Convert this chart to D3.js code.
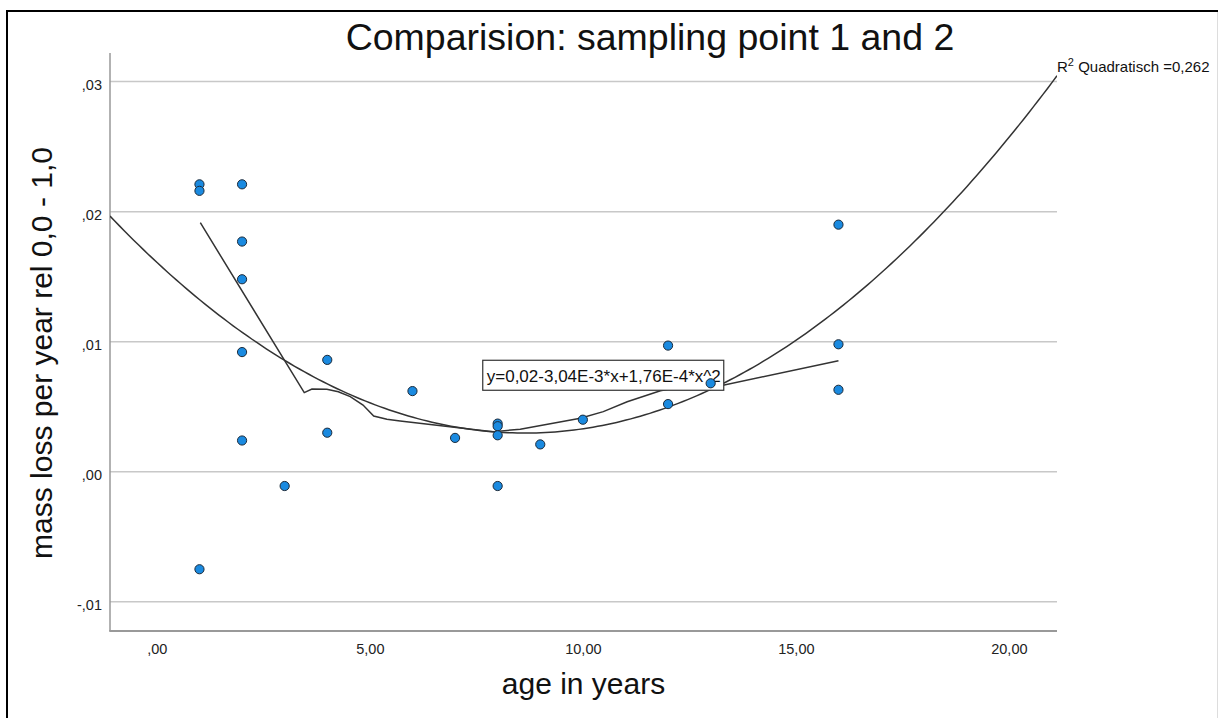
<!DOCTYPE html>
<html>
<head>
<meta charset="utf-8">
<script src="https://cdn.jsdelivr.net/npm/d3@7"></script>
<style>
  body { margin: 0; background: #fff; }
  svg { display: block; }
</style>
</head>
<body>
<div class="chart"></div>
<script>
// 데이터
const ages = [1, 1, 1, 2, 2, 2, 2, 2, 3, 4, 4, 6, 7, 8, 8, 8, 8, 9, 10, 12, 12, 13, 16, 16, 16];
const massLoss = [0.0221, 0.0216, -0.0075, 0.0221, 0.0177, 0.0148, 0.0092, 0.0024, -0.0011, 0.0086, 0.0030,
  0.0062, 0.0026, 0.0037, 0.0035, 0.0028, -0.0011, 0.0021, 0.0040, 0.0097, 0.0052, 0.0068, 0.0190, 0.0098, 0.0063];

// 이차 회귀 계수 (절편은 그림에서 추정)
const quadCoef = [0.0161, -3.04e-3, 1.76e-4];

// Loess 선
const loessX = [1.02, 3.46, 3.64, 3.99, 4.26, 4.54, 4.84, 5.09, 5.40, 5.71, 7.89, 8.53, 9.94, 10.48, 11.04, 11.82, 12.0, 12.99, 16.0];
const loessY = [0.01915, 0.00608, 0.00636, 0.00634, 0.00615, 0.00577, 0.00513, 0.00428, 0.00403, 0.0039, 0.00308, 0.00326, 0.00411, 0.00462, 0.00538, 0.00623, 0.00634, 0.00644, 0.00854];

// 눈금
const xTicks = [0, 5, 10, 15, 20];
const xTickLabels = [',00', '5,00', '10,00', '15,00', '20,00'];
const yTicks = [-0.01, 0, 0.01, 0.02, 0.03];
const yTickLabels = ['-,01', ',00', ',01', ',02', ',03'];

const title = 'Comparision: sampling point 1 and 2';
const xTitle = 'age in years';
const yTitle = 'mass loss per year rel 0,0 - 1,0';
const eqText = 'y=0,02-3,04E-3*x+1,76E-4*x^2';

/******************** 크기 ********************/
const W = 1218, H = 718;
const plot = {left: 110, right: 1057, top: 53, bottom: 631};
const font = '"Liberation Sans", Arial, sans-serif';

const x = d3.scaleLinear([-1.1, 21.13], [plot.left, plot.right]);
const y = d3.scaleLinear([-0.01225, 0.0322], [plot.bottom, plot.top]);

const svg = d3.select('.chart').append('svg')
  .attr('width', W)
  .attr('height', H)
  .attr('font-family', font);

// 바깥 테두리
svg.append('line').attr('x1', 7).attr('x2', 7).attr('y1', 11).attr('y2', H)
  .attr('stroke', '#000').attr('stroke-width', 2);
svg.append('line').attr('x1', 6).attr('x2', W).attr('y1', 11).attr('y2', 11)
  .attr('stroke', '#000').attr('stroke-width', 2);
svg.append('line').attr('x1', 1217.5).attr('x2', 1217.5).attr('y1', 12).attr('y2', H)
  .attr('stroke', '#ddd').attr('stroke-width', 1);

/******************** 눈금선 + 축 ********************/
svg.append('g')
  .selectAll('line')
  .data(yTicks)
  .join('line')
    .attr('x1', plot.left)
    .attr('x2', plot.right)
    .attr('y1', d => y(d))
    .attr('y2', d => y(d))
    .attr('stroke', '#c8c8c8')
    .attr('stroke-width', 1.5);

const yAxis = d3.axisLeft(y).tickValues(yTicks).tickSize(0).tickPadding(8)
  .tickFormat((d, i) => yTickLabels[i]);
svg.append('g')
  .attr('transform', `translate(${plot.left},0)`)
  .call(yAxis)
  .call(g => g.select('.domain').remove())
  .selectAll('text')
    .attr('font-family', font)
    .attr('font-size', 14.5)
    .attr('fill', '#222')
    .attr('dy', '0.55em');

const xAxis = d3.axisBottom(x).tickValues(xTicks).tickSize(0).tickPadding(13)
  .tickFormat((d, i) => xTickLabels[i]);
svg.append('g')
  .attr('transform', `translate(0,${plot.bottom})`)
  .call(xAxis)
  .call(g => g.select('.domain').remove())
  .selectAll('text')
    .attr('font-family', font)
    .attr('font-size', 14.5)
    .attr('fill', '#222');

svg.append('line')
  .attr('x1', plot.left).attr('x2', plot.left)
  .attr('y1', plot.top).attr('y2', plot.bottom)
  .attr('stroke', '#999').attr('stroke-width', 1.5);
svg.append('line')
  .attr('x1', plot.left - 0.75).attr('x2', plot.right)
  .attr('y1', plot.bottom).attr('y2', plot.bottom)
  .attr('stroke', '#999').attr('stroke-width', 2);

/******************** 선 ********************/
svg.append('clipPath').attr('id', 'plotclip')
  .append('rect')
    .attr('x', plot.left).attr('y', plot.top - 30)
    .attr('width', plot.right - plot.left).attr('height', plot.bottom - plot.top + 30);

const quad = v => quadCoef[0] + quadCoef[1] * v + quadCoef[2] * v * v;
const quadPts = d3.range(0, 201).map(i => {
  const v = x.domain()[0] + (x.domain()[1] - x.domain()[0]) * i / 200;
  return [v, quad(v)];
});
const line = d3.line().x(d => x(d[0])).y(d => y(d[1]));

svg.append('path')
  .attr('clip-path', 'url(#plotclip)')
  .attr('d', line(quadPts))
  .attr('fill', 'none')
  .attr('stroke', '#333')
  .attr('stroke-width', 1.5);

svg.append('path')
  .attr('d', line(d3.zip(loessX, loessY)))
  .attr('fill', 'none')
  .attr('stroke', '#333')
  .attr('stroke-width', 1.5);

/******************** 식 상자 ********************/
const eq = svg.append('g').attr('transform', `translate(${x(7.65)},${y(0.00857)})`);
eq.append('rect')
  .attr('x', 0).attr('y', 0)
  .attr('width', 241).attr('height', 30)
  .attr('fill', '#fff')
  .attr('stroke', '#333')
  .attr('stroke-width', 1.2);
eq.append('text')
  .attr('x', 4).attr('y', 22)
  .attr('font-size', 17)
  .attr('fill', '#111')
  .attr('textLength', 234)
  .text(eqText);

/******************** 점 ********************/
svg.append('g')
  .selectAll('circle')
  .data(d3.zip(ages, massLoss))
  .join('circle')
    .attr('cx', d => x(d[0]))
    .attr('cy', d => y(d[1]))
    .attr('r', 4.6)
    .attr('fill', '#1a8ae0')
    .attr('stroke', '#1b2a3a')
    .attr('stroke-width', 1);

/******************** 텍스트 ********************/
svg.append('text')
  .attr('x', 650).attr('y', 50)
  .attr('text-anchor', 'middle')
  .attr('font-size', 37.5)
  .attr('fill', '#111')
  .text(title);

svg.append('text')
  .attr('x', (plot.left + plot.right) / 2).attr('y', 694)
  .attr('text-anchor', 'middle')
  .attr('font-size', 30)
  .attr('fill', '#111')
  .text(xTitle);

svg.append('text')
  .attr('transform', 'translate(52,353) rotate(-90)')
  .attr('text-anchor', 'middle')
  .attr('font-size', 30)
  .attr('fill', '#111')
  .text(yTitle);

const r2 = svg.append('text')
  .attr('x', 1057).attr('y', 72)
  .attr('font-size', 15)
  .attr('fill', '#111');
r2.append('tspan').text('R');
r2.append('tspan').attr('font-size', 11).attr('dy', -6).text('2');
r2.append('tspan').attr('dy', 6).text(' Quadratisch =0,262');
</script>
</body>
</html>
